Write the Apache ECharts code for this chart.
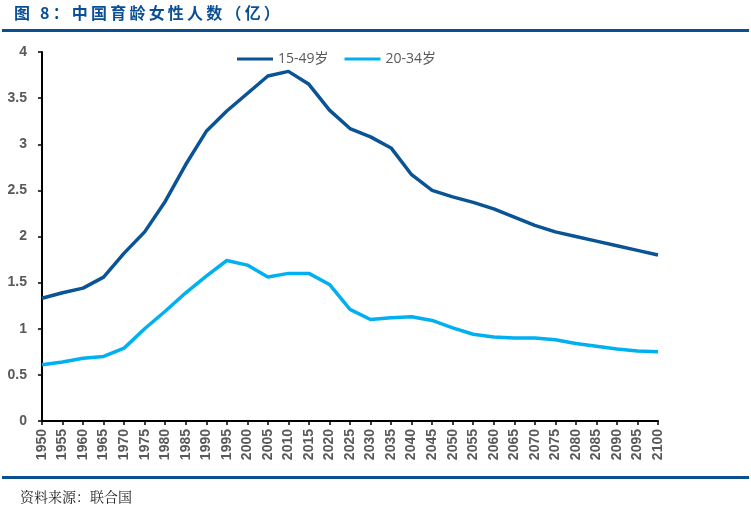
<!DOCTYPE html>
<html><head><meta charset="utf-8">
<script src="https://cdn.jsdelivr.net/npm/echarts@6/dist/echarts.min.js"></script>
<style>html,body{margin:0;padding:0;background:#fff}#c{width:751px;height:518px}</style>
</head><body><div id="c"></div>
<script>
const years = ['1950','1955','1960','1965','1970','1975','1980','1985','1990','1995','2000','2005','2010','2015','2020','2025','2030','2035','2040','2045','2050','2055','2060','2065','2070','2075','2080','2085','2090','2095','2100'];
const age15to49 = [1.33,1.39,1.44,1.56,1.82,2.05,2.38,2.78,3.14,3.36,3.55,3.74,3.79,3.65,3.37,3.17,3.08,2.96,2.67,2.50,2.43,2.37,2.30,2.21,2.12,2.05,2.00,1.95,1.90,1.85,1.80];
const age20to34 = [0.61,0.64,0.68,0.70,0.79,1.00,1.19,1.39,1.57,1.74,1.69,1.56,1.60,1.60,1.48,1.21,1.10,1.12,1.13,1.09,1.01,0.94,0.91,0.90,0.90,0.88,0.84,0.81,0.78,0.76,0.75];
const yTicks = [0,0.5,1,1.5,2,2.5,3,3.5,4];
const seriesNames = ['15-49岁','20-34岁'];
const titleText = '图 8：中国育龄女性人数（亿）';

const chart = echarts.init(document.getElementById('c'));
chart.setOption({
  animation:false,
  backgroundColor:'#fff',
  graphic:[
    {type:'text',left:14,top:5,style:{text:titleText.split('').join('\u2009'),font:'bold 16px "Noto Sans CJK SC"',fill:'#0A4F94'}},
    {type:'rect',shape:{x:2,y:29,width:747,height:3},style:{fill:'#0A4F8F'}},
    {type:'rect',shape:{x:2,y:476,width:747,height:3},style:{fill:'#0A4F8F'}},
    {type:'text',left:20,top:490,style:{text:'资料来源：联合国',font:'14px "Noto Serif CJK SC","Noto Sans CJK SC"',fill:'#222'}}
  ],
  legend:{
    top:47,left:232,itemWidth:36,itemHeight:3,itemGap:16,
    icon:'rect',
    textStyle:{color:'#595959',fontSize:14,fontFamily:'"Open Sans","Noto Sans CJK SC"'},
    data:seriesNames
  },
  grid:{left:42,right:93,top:52,bottom:97,containLabel:false},
  xAxis:{
    type:'category',data:years,boundaryGap:false,
    axisLine:{lineStyle:{color:'#000',width:2}},
    axisTick:{show:true,length:4,alignWithLabel:true,lineStyle:{color:'#000',width:1.5}},
    axisLabel:{interval:0,rotate:90,color:'#595959',fontWeight:'bold',fontSize:14,fontFamily:'"Liberation Sans",Arial',margin:8},
    splitLine:{show:false}
  },
  yAxis:{
    type:'value',min:0,max:4,interval:0.5,
    axisLine:{show:true,lineStyle:{color:'#000',width:2}},
    axisTick:{show:true,length:4,lineStyle:{color:'#000',width:1.5}},
    axisLabel:{color:'#595959',fontWeight:'bold',fontSize:14,fontFamily:'"Liberation Sans",Arial',margin:15,
      formatter:v=>yTicks.includes(v)?String(v):''},
    splitLine:{show:false}
  },
  series:[
    {name:seriesNames[0],type:'line',data:age15to49,symbol:'none',lineStyle:{width:3.5,color:'#0A5496'},itemStyle:{color:'#0A5496'}},
    {name:seriesNames[1],type:'line',data:age20to34,symbol:'none',lineStyle:{width:3.5,color:'#00B0F0'},itemStyle:{color:'#00B0F0'}}
  ]
});
</script></body></html>
